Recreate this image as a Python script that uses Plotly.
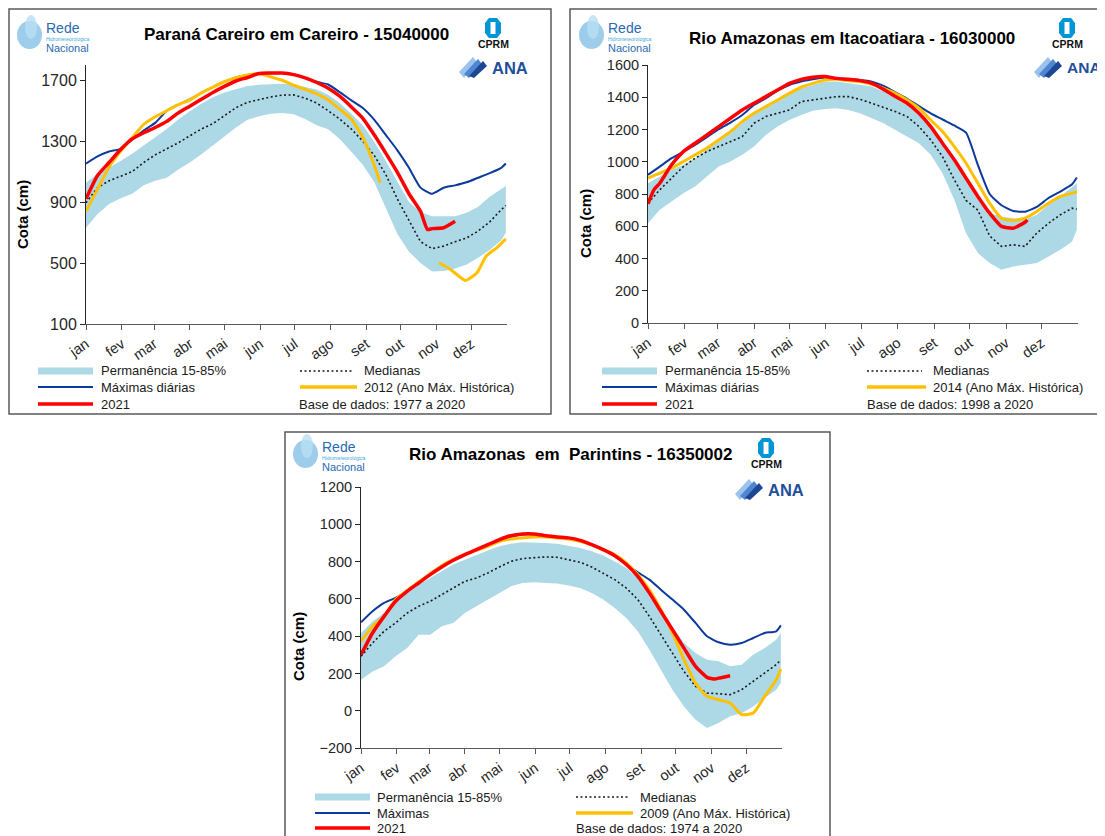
import plotly.graph_objects as go

# ---------------- data ----------------
MONTHS = ["jan", "fev", "mar", "abr", "mai", "jun", "jul", "ago", "set", "out", "nov", "dez"]
MONTH_START_DAYS = [1, 32, 60, 91, 121, 152, 182, 213, 244, 274, 305, 335]

GRID_DAYS = [1, 11, 21, 31, 41, 51, 61, 71, 81, 91, 101, 111, 121, 131, 141, 151, 161, 171, 181,
             191, 201, 211, 221, 231, 241, 251, 261, 271, 281, 291, 301, 311, 321, 331, 341, 351,
             361, 365]

# Panel 1 - Paraná Careiro em Careiro
P1_UPPER = [1027, 1087, 1128, 1170, 1218, 1272, 1322, 1380, 1442, 1497, 1545, 1588, 1619, 1643, 1662,
            1670, 1675, 1677, 1672, 1658, 1640, 1604, 1550, 1480, 1405, 1295, 1170, 1033, 901, 835,
            808, 808, 808, 830, 870, 935, 985, 1005]
P1_LOWER = [732, 822, 888, 925, 955, 1010, 1040, 1060, 1114, 1160, 1215, 1270, 1330, 1390, 1440,
            1464, 1480, 1485, 1476, 1445, 1405, 1378, 1315, 1230, 1145, 1030, 865, 690, 575, 500,
            445, 448, 465, 490, 535, 585, 650, 699]
P1_MEDIAN = [896, 995, 1040, 1068, 1100, 1160, 1210, 1250, 1289, 1335, 1380, 1415, 1470, 1520, 1555,
             1573, 1590, 1602, 1604, 1582, 1550, 1500, 1445, 1380, 1300, 1205, 1080, 920, 775, 640,
             595, 611, 640, 665, 710, 770, 850, 878]
P1_MAX = [1153, 1200, 1232, 1250, 1310, 1370, 1420, 1500, 1540, 1575, 1617, 1655, 1690, 1718, 1735,
          1745, 1746, 1747, 1737, 1715, 1690, 1672, 1622, 1568, 1518, 1440, 1340, 1240, 1125, 995,
          955, 994, 1010, 1030, 1060, 1090, 1125, 1153]
P1_2021_DAYS = [1, 11, 21, 31, 41, 51, 61, 71, 81, 91, 101, 111, 121, 131, 141, 151, 161, 171, 181,
                191, 201, 211, 221, 231, 241, 251, 261, 271, 281, 291, 297, 301, 311, 321]
P1_2021 = [922, 1075, 1160, 1245, 1315, 1355, 1390, 1430, 1486, 1530, 1575, 1620, 1660, 1695, 1718,
           1744, 1747, 1748, 1737, 1715, 1685, 1648, 1595, 1525, 1450, 1340, 1220, 1095, 955, 840,
           721, 726, 732, 775]
P1_HIST_DAYS = [1, 11, 21, 31, 41, 51, 61, 71, 81, 91, 101, 111, 121, 131, 141, 151, 161, 171, 181,
                191, 201, 211, 221, 231, 241, 251, 256, None, 307, 317, 330, 340, 348, 357, 365]
P1_HIST = [841, 985, 1130, 1235, 1322, 1410, 1460, 1500, 1540, 1570, 1617, 1655, 1690, 1717, 1735,
           1744, 1722, 1700, 1667, 1640, 1610, 1570, 1510, 1445, 1325, 1140, 1027, None, 502, 458,
           386, 437, 546, 600, 659]

# Panel 2 - Rio Amazonas em Itacoatiara
P2_UPPER = [867, 908, 950, 981, 1022, 1073, 1125, 1177, 1239, 1301, 1342, 1383, 1424, 1455, 1476,
            1497, 1497, 1486, 1476, 1466, 1435, 1393, 1352, 1290, 1208, 1115, 1012, 898, 785, 681,
            661, 650, 640, 671, 733, 785, 846, 867]
P2_LOWER = [619, 702, 754, 805, 846, 908, 970, 1001, 1043, 1094, 1166, 1218, 1259, 1290, 1317, 1327,
            1332, 1321, 1301, 1270, 1239, 1197, 1156, 1115, 1043, 929, 764, 557, 434, 372, 330, 351,
            361, 372, 413, 454, 506, 578]
P2_MEDIAN = [743, 826, 898, 970, 1022, 1063, 1094, 1125, 1156, 1239, 1280, 1301, 1321, 1373, 1383,
             1393, 1404, 1404, 1387, 1363, 1338, 1311, 1280, 1218, 1135, 1032, 888, 760, 700, 540,
             475, 485, 475, 557, 619, 671, 712, 706]
P2_MAX = [919, 970, 1022, 1063, 1104, 1152, 1202, 1243, 1290, 1352, 1393, 1441, 1476, 1497, 1511,
          1522, 1517, 1511, 1507, 1497, 1470, 1430, 1390, 1345, 1300, 1262, 1225, 1180, 980, 800,
          730, 695, 690, 720, 775, 815, 860, 902]
P2_HIST = [898, 929, 960, 1001, 1043, 1084, 1135, 1187, 1249, 1301, 1342, 1383, 1424, 1462, 1486,
           1507, 1511, 1503, 1497, 1480, 1455, 1424, 1383, 1332, 1259, 1187, 1094, 991, 867, 743,
           650, 636, 650, 692, 743, 785, 805, 815]
P2_2021_DAYS = [1, 6, 11, 21, 31, 41, 51, 61, 71, 81, 91, 101, 111, 121, 131, 141, 151, 161, 171,
                181, 191, 201, 211, 221, 231, 241, 251, 261, 271, 281, 291, 301, 311, 321, 323]
P2_2021 = [739, 826, 867, 981, 1063, 1115, 1166, 1218, 1270, 1321, 1363, 1404, 1445, 1486, 1511,
           1524, 1528, 1517, 1511, 1503, 1486, 1449, 1404, 1363, 1301, 1218, 1115, 1012, 898, 785,
           681, 599, 588, 625, 640]

# Panel 3 - Rio Amazonas em Parintins
P3_UPPER = [417, 479, 524, 578, 631, 676, 712, 748, 784, 810, 837, 860, 882, 896, 903, 903, 900, 896,
            886, 873, 855, 832, 801, 766, 712, 640, 551, 453, 363, 310, 274, 265, 238, 247, 300, 336,
            381, 417]
P3_LOWER = [166, 211, 238, 292, 336, 408, 408, 453, 471, 524, 560, 596, 631, 667, 685, 689, 685, 682,
            671, 658, 631, 596, 551, 497, 426, 327, 220, 113, 23, -48, -93, -66, -30, -13, 23, 68,
            113, 148]
P3_MEDIAN = [292, 363, 426, 471, 524, 560, 587, 623, 658, 694, 712, 739, 771, 801, 816, 819, 825, 823,
             810, 796, 771, 739, 703, 658, 596, 506, 408, 310, 211, 131, 95, 91, 86, 113, 157, 202,
             247, 274]
P3_MAX = [474, 533, 578, 605, 640, 690, 735, 778, 810, 837, 860, 882, 909, 932, 945, 945, 939, 932,
          927, 909, 891, 864, 828, 784, 742, 703, 649, 596, 542, 471, 399, 367, 354, 363, 390, 417,
          426, 458]
P3_HIST = [372, 453, 506, 596, 645, 690, 735, 778, 810, 837, 860, 882, 909, 921, 927, 932, 932, 927,
           921, 909, 891, 864, 837, 793, 730, 649, 542, 417, 274, 148, 77, 59, 41, -21, -13, 77, 166,
           224]
P3_2021_DAYS = [1, 11, 21, 31, 41, 51, 61, 71, 81, 91, 101, 111, 121, 131, 141, 151, 161, 171, 181,
                191, 201, 211, 221, 231, 241, 251, 261, 271, 281, 291, 301, 308, 311, 321]
P3_2021 = [300, 417, 506, 587, 640, 685, 730, 771, 807, 837, 864, 891, 918, 939, 948, 948, 939, 932,
           927, 914, 891, 864, 832, 784, 721, 632, 533, 435, 336, 238, 179, 170, 175, 188]

# ---------------- layout helpers ----------------
# The page body adds an 8px margin, so the figure is made 8px smaller and
# reference pixel positions are shifted by that offset.
OFF = 8
W, H = 1105 - OFF, 836 - OFF


def X(px):
    return (px - OFF) / W


def Y(py):
    return 1 - (py - OFF) / H


C_BAND = "#ADD8E6"
C_MAX = "#0B3A9C"
C_HIST = "#FFC000"
C_2021 = "#FF0000"
C_MED = "#1a1a1a"
MED_DASH = "2px,2.5px"
FONT = "Arial, Liberation Sans, sans-serif"

fig = go.Figure()

panels = [
    dict(sfx="", dom_x=(86, 507), dom_y=(324, 65), yrange=[100, 1800],
         yticks=[100, 500, 900, 1300, 1700], ytick_size=16,
         upper=P1_UPPER, lower=P1_LOWER, median=P1_MEDIAN, mx=P1_MAX,
         hist_x=P1_HIST_DAYS, hist_y=P1_HIST, y21_x=P1_2021_DAYS, y21=P1_2021),
    dict(sfx="2", dom_x=(648, 1078), dom_y=(323, 65), yrange=[0, 1600],
         yticks=[0, 200, 400, 600, 800, 1000, 1200, 1400, 1600], ytick_size=14.5,
         upper=P2_UPPER, lower=P2_LOWER, median=P2_MEDIAN, mx=P2_MAX,
         hist_x=GRID_DAYS, hist_y=P2_HIST, y21_x=P2_2021_DAYS, y21=P2_2021),
    dict(sfx="3", dom_x=(361, 782), dom_y=(748, 487), yrange=[-200, 1200],
         yticks=[-200, 0, 200, 400, 600, 800, 1000, 1200], ytick_size=14.5,
         upper=P3_UPPER, lower=P3_LOWER, median=P3_MEDIAN, mx=P3_MAX,
         hist_x=GRID_DAYS, hist_y=P3_HIST, y21_x=P3_2021_DAYS, y21=P3_2021),
]

for p in panels:
    xa, ya = "x" + p["sfx"], "y" + p["sfx"]
    common = dict(xaxis=xa, yaxis=ya, hoverinfo="skip", showlegend=False)
    fig.add_trace(go.Scatter(x=GRID_DAYS, y=p["upper"], mode="lines",
                             line=dict(width=0, color=C_BAND), **common))
    fig.add_trace(go.Scatter(x=GRID_DAYS, y=p["lower"], mode="lines", fill="tonexty",
                             fillcolor=C_BAND, line=dict(width=0, color=C_BAND), **common))
    fig.add_trace(go.Scatter(x=GRID_DAYS, y=p["median"], mode="lines",
                             line=dict(width=1.6, color=C_MED, dash=MED_DASH), **common))
    fig.add_trace(go.Scatter(x=GRID_DAYS, y=p["mx"], mode="lines",
                             line=dict(width=2, color=C_MAX, shape="spline", smoothing=0.5), **common))
    fig.add_trace(go.Scatter(x=p["hist_x"], y=p["hist_y"], mode="lines", connectgaps=False,
                             line=dict(width=3, color=C_HIST, shape="spline", smoothing=0.5), **common))
    fig.add_trace(go.Scatter(x=p["y21_x"], y=p["y21"], mode="lines",
                             line=dict(width=3.5, color=C_2021, shape="spline", smoothing=0.5), **common))

    xkey = "xaxis" + p["sfx"]
    ykey = "yaxis" + p["sfx"]
    fig.update_layout({
        xkey: dict(domain=[X(p["dom_x"][0]), X(p["dom_x"][1])], range=[1, 366],
                   tickmode="array", tickvals=MONTH_START_DAYS, ticktext=MONTHS, tickangle=-35,
                   ticks="outside", ticklen=5, tickcolor="#595959", showline=True,
                   linecolor="#595959", linewidth=1, showgrid=False, zeroline=False,
                   tickfont=dict(family=FONT, size=14.5, color="#262626"), anchor=ya,
                   automargin=False, fixedrange=True),
        ykey: dict(domain=[Y(p["dom_y"][0]), Y(p["dom_y"][1])], range=p["yrange"],
                   tickmode="array", tickvals=p["yticks"], ticks="outside", ticklen=5,
                   tickcolor="#262626", showline=True, linecolor="#262626", linewidth=1,
                   showgrid=False, zeroline=False,
                   tickfont=dict(family=FONT, size=p["ytick_size"], color="#262626"),
                   anchor=xa, automargin=False, fixedrange=True),
    })

shapes = []
annotations = []

# panel borders
for (x0, y0, x1, y1) in [(9, 9, 551, 414), (570, 9, 1099, 414), (285, 432, 830, 845)]:
    shapes.append(dict(type="rect", xref="paper", yref="paper", x0=X(x0), x1=X(x1), y0=Y(y1), y1=Y(y0),
                       line=dict(color="#595959", width=1.5), fillcolor="rgba(0,0,0,0)", layer="below"))


def text(px, py, s, size=13, bold=False, color="#1a1a1a", anchor="left", angle=0):
    annotations.append(dict(xref="paper", yref="paper", x=X(px), y=Y(py), text=("<b>%s</b>" % s) if bold else s,
                            showarrow=False, xanchor=anchor, yanchor="middle", textangle=angle,
                            font=dict(family=FONT, size=size, color=color)))


def hline(x0, x1, py, color, width, dash="solid"):
    shapes.append(dict(type="line", xref="paper", yref="paper", x0=X(x0), x1=X(x1), y0=Y(py), y1=Y(py),
                       line=dict(color=color, width=width, dash=dash)))


# titles
text(296, 34, "Paraná Careiro em Careiro - 15040000", size=17, bold=True, color="#000", anchor="center")
text(852, 38, "Rio Amazonas em Itacoatiara - 16030000", size=17, bold=True, color="#000", anchor="center")
text(570, 455, "Rio Amazonas  em  Parintins - 16350002", size=17, bold=True, color="#000", anchor="center")

# y-axis titles
text(22, 215, "Cota (cm)", size=15, bold=True, color="#000", anchor="center", angle=-90)
text(585, 224, "Cota (cm)", size=15, bold=True, color="#000", anchor="center", angle=-90)
text(298, 647, "Cota (cm)", size=15, bold=True, color="#000", anchor="center", angle=-90)

# legends
legends = [
    dict(lx=(38, 93), tx=99, rx=(300, 357), rtx=362, rows=(371, 387, 404),
         maxlabel="Máximas diárias", hist="2012 (Ano Máx. Histórica)", base="Base de dados: 1977 a 2020", bx=297),
    dict(lx=(602, 657), tx=663, rx=(867, 926), rtx=931, rows=(371, 387, 404),
         maxlabel="Máximas diárias", hist="2014 (Ano Máx. Histórica)", base="Base de dados: 1998 a 2020", bx=865),
    dict(lx=(315, 370), tx=375, rx=(576, 633), rtx=638, rows=(797, 813, 828),
         maxlabel="Máximas", hist="2009 (Ano Máx. Histórica)", base="Base de dados: 1974 a 2020", bx=574),
]
for lg in legends:
    r1, r2, r3 = lg["rows"]
    hline(lg["lx"][0], lg["lx"][1], r1, C_BAND, 7)
    text(lg["tx"], r1, "Permanência 15-85%")
    hline(lg["rx"][0], lg["rx"][1] - 4, r1, C_MED, 1.5, MED_DASH)
    text(lg["rtx"], r1, "Medianas")
    hline(lg["lx"][0], lg["lx"][1], r2, C_MAX, 2)
    text(lg["tx"], r2, lg["maxlabel"])
    hline(lg["rx"][0], lg["rx"][1], r2, C_HIST, 3.5)
    text(lg["rtx"], r2, lg["hist"])
    hline(lg["lx"][0], lg["lx"][1], r3, C_2021, 3.5)
    text(lg["tx"], r3, "2021")
    text(lg["bx"], r3, lg["base"])


# logos (drawn as simple shapes + text)
def rede_logo(bx, by):
    shapes.append(dict(type="circle", xref="paper", yref="paper", x0=X(bx), x1=X(bx + 25),
                       y0=Y(by + 34), y1=Y(by + 6), fillcolor="#8cc4e8", line=dict(width=0), opacity=0.85))
    shapes.append(dict(type="circle", xref="paper", yref="paper", x0=X(bx + 8), x1=X(bx + 20),
                       y0=Y(by + 24), y1=Y(by), fillcolor="#b9def3", line=dict(width=0), opacity=0.8))
    text(bx + 27, by + 13, "Rede", size=14, color="#2a6ab3")
    text(bx + 27, by + 23.5, "Hidrometeorológica", size=5, color="#3fa8dd")
    text(bx + 27, by + 33, "Nacional", size=11, color="#2a6ab3")


def cprm_logo(cx, ty):
    x0, x1, y0, y1 = cx - 8, cx + 8, ty, ty + 20
    path = ("M {a},{b} L {c},{b} L {d},{e} L {d},{f} L {c},{g} L {a},{g} L {h},{f} L {h},{e} Z").format(
        a=X(x0 + 4), b=Y(y0), c=X(x1 - 4), d=X(x1), e=Y(y0 + 5), f=Y(y1 - 5), g=Y(y1), h=X(x0))
    shapes.append(dict(type="path", xref="paper", yref="paper", path=path, fillcolor="#0096d6",
                       line=dict(width=0)))
    shapes.append(dict(type="rect", xref="paper", yref="paper", x0=X(cx - 2.5), x1=X(cx + 2.5),
                       y0=Y(y1 - 4), y1=Y(y0 + 4), fillcolor="white", line=dict(width=0)))
    text(cx, ty + 26, "CPRM", size=10.5, bold=True, color="#111", anchor="center")


def ana_logo(ix, cy, size=16.5):
    for k, col in enumerate(["#9cc3ee", "#4f86d0", "#1c4795"]):
        ox = ix + k * 5
        path = "M {a},{b} L {c},{d} L {e},{f} L {g},{h} Z".format(
            a=X(ox), b=Y(cy + 4 + k * 2), c=X(ox + 14), d=Y(cy - 11 + k * 2),
            e=X(ox + 18), f=Y(cy - 6 + k * 2), g=X(ox + 5), h=Y(cy + 10))
        shapes.append(dict(type="path", xref="paper", yref="paper", path=path, fillcolor=col,
                           line=dict(width=0)))
    text(ix + 31, cy, "ANA", size=size, bold=True, color="#1f4e9c")


rede_logo(17, 15)
rede_logo(579, 15)
rede_logo(293, 434)
cprm_logo(493, 18)
cprm_logo(1067, 18)
cprm_logo(766, 438)
ana_logo(459, 68)
ana_logo(1034, 68, size=15.5)
ana_logo(735, 490)

fig.update_layout(width=W, height=H, margin=dict(l=0, r=0, t=0, b=0, pad=0, autoexpand=False),
                  paper_bgcolor="white", plot_bgcolor="rgba(0,0,0,0)", showlegend=False,
                  shapes=shapes, annotations=annotations, font=dict(family=FONT))

fig.write_html("out.html")
